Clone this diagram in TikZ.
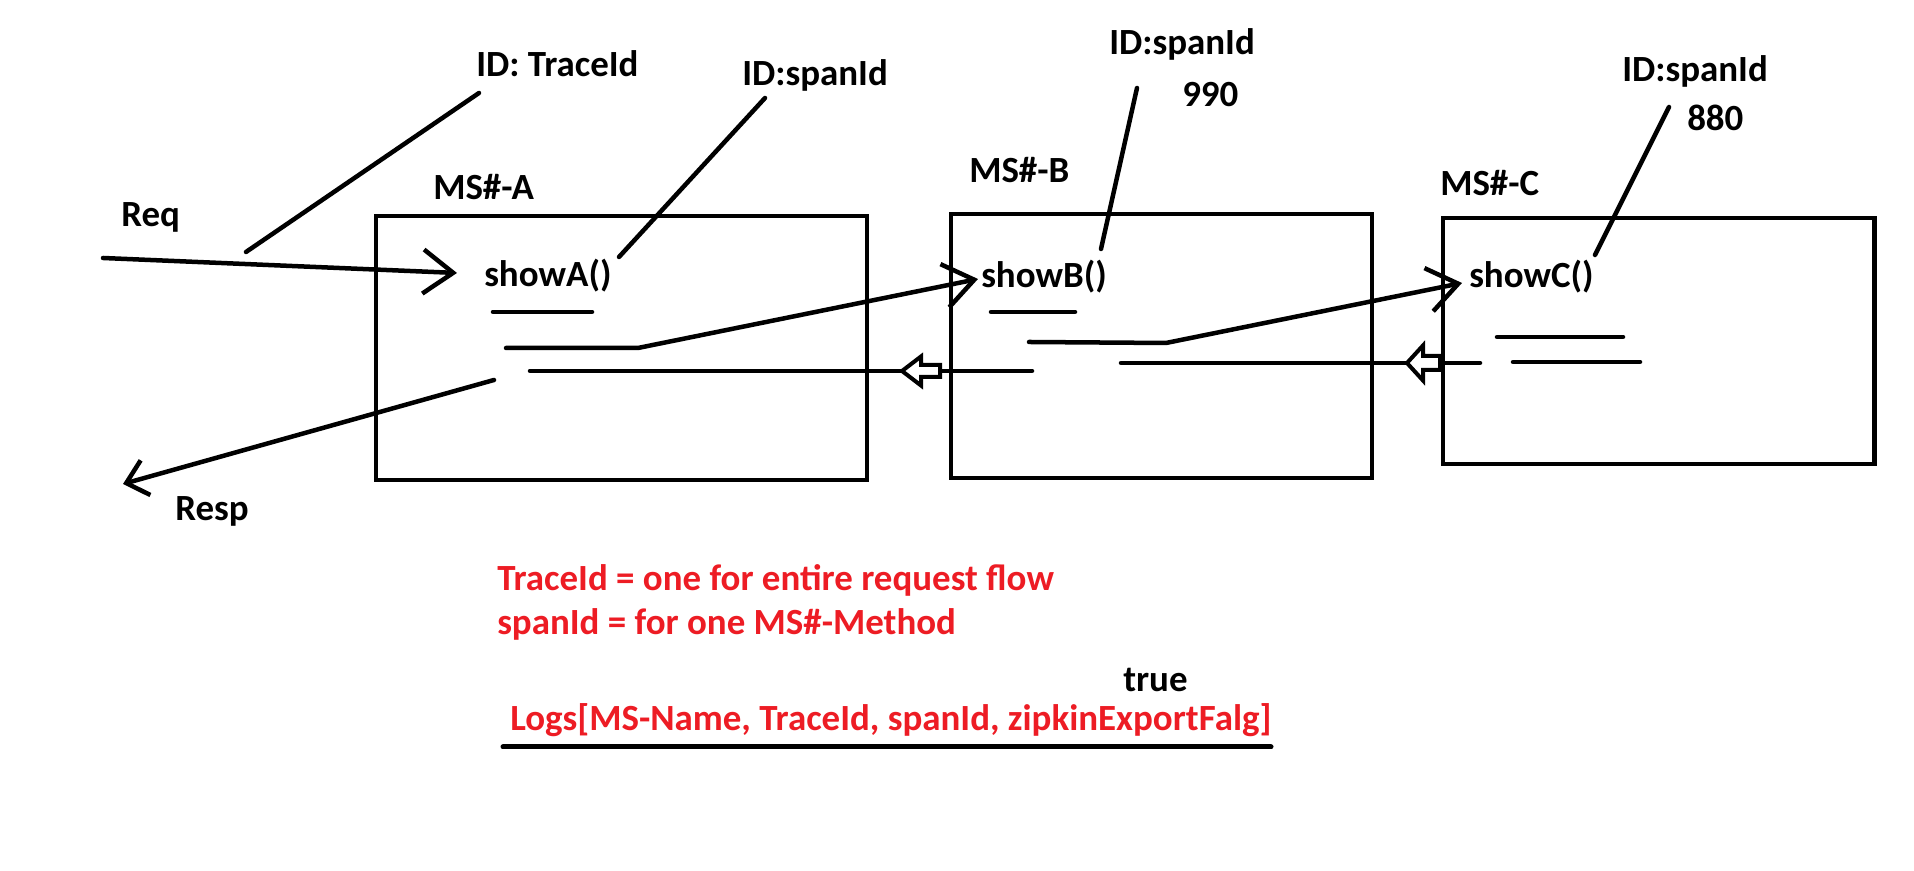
\documentclass[tikz,border=0pt]{standalone}
\usepackage{fontspec}
\setmainfont{Carlito}
\usetikzlibrary{arrows.meta}

\definecolor{paintred}{RGB}{237,28,36}

\tikzset{
  service/.style={draw, line width=0.045cm, inner sep=0pt},
  txt/.style={font=\bfseries\fontsize{10.5}{12}\selectfont, inner sep=0pt, anchor=base west},
  note/.style={txt, text=paintred},
  back arrow/.style={draw, fill=white, line width=0.04cm, line join=miter},
}

\begin{document}
\begin{tikzpicture}[x=0.01cm, y=-0.01cm, line width=0.045cm, line cap=round,
  >={Straight Barb[length=0.3cm, width=0.44cm]}]

\useasboundingbox (0,0) rectangle (1914,871);

\foreach \m/\x/\y/\w/\h in {A/621.5/348/4.91/2.64, B/1161.5/346/4.21/2.64, C/1658.7/341/4.315/2.46}
  \node [service, minimum width=\w cm, minimum height=\h cm] (ms-\m) at (\x,\y) {};

\foreach \m/\x/\y in {A/431/200, B/967/183, C/1438/196}
  \node [txt] (name-\m) at (\x,\y) {MS\#-\m};

\foreach \m/\x/\y in {A/482/287, B/979/288, C/1467/288}
  \node [txt] (show-\m) at (\x,\y) {show\m()};

\foreach \m/\x/\y in {A/740/86, B/1107/55, C/1620/82}
  \node [txt] (span-\m) at (\x,\y) {ID:spanId};

\node [txt] (trace) at (474,77) {ID: TraceId};
\node [txt] (span-val-B) at (1180,107) {990};
\node [txt] (span-val-C) at (1685,131) {880};
\node [txt] (req) at (119,227) {Req};
\node [txt] (resp) at (173,521) {Resp};

% loose ends of the lines
\foreach \n/\x/\y in {
    ptr-T1/479/93, ptr-T2/246/252,
    ptr-A1/765/98, ptr-A2/619/257,
    ptr-B1/1137/88, ptr-B2/1101/249,
    ptr-C1/1669/107, ptr-C2/1595/255,
    req-in/103/258, req-tip/457/273,
    resp-out/494/380, resp-tip/123/484,
    a1-l/493/312, a1-r/592/312,
    a2-l/506/348, a2-r/638/348, tip-B/978/279,
    b1-l/991/312, b1-r/1075/312,
    b2-l/1029/342, b2-r/1166/343, tip-C/1462/283,
    c1-l/1497/337, c1-r/1623/337,
    c2-l/1513/362, c2-r/1640/362,
    ret-A/530/371, ret-B-out/1032/371,
    ret-B-in/1121/363, ret-C-out/1480/363,
    back-A/902/371, back-B/1407/363,
    logs-l/503/747, logs-r/1271/747}
  \coordinate (\n) at (\x,\y);

\foreach \m in {T,A,B,C}
  \draw (ptr-\m1) -- (ptr-\m2);

\draw [->] (req-in) -- (req-tip);
\draw [-{Straight Barb[length=0.2cm, width=0.36cm]}] (resp-out) -- (resp-tip);

\draw (a1-l) -- (a1-r);
\draw [->] (a2-l) -- (a2-r) -- (tip-B);
\draw (b1-l) -- (b1-r);
\draw [->] (b2-l) -- (b2-r) -- (tip-C);
\draw (c1-l) -- (c1-r);
\draw (c2-l) -- (c2-r);

% way back
\draw (ret-B-out) -- (ret-A);
\draw (ret-C-out) -- (ret-B-in);
\draw [back arrow] (back-A) -- ++(19,-14.5) -- ++(0,8.5) -- ++(19,0) -- ++(0,12)
  -- ++(-19,0) -- ++(0,8.5) -- cycle;
\draw [back arrow] (back-B) -- ++(16,-17.5) -- ++(0,10.5) -- ++(17,0) -- ++(0,14)
  -- ++(-17,0) -- ++(0,10.5) -- cycle;

\node [note] (note-trace) at (495,591) {TraceId = one for entire request flow};
\node [note] (note-span) at (495,635) {spanId = for one MS\#-Method};
\node [txt] (flag) at (1121,692) {true};
\node [note] (logs) at (508,731) {Logs[MS-Name, TraceId, spanId, zipkinExportFalg]};
\draw [line width=0.05cm] (logs-l) -- (logs-r);

\end{tikzpicture}
\end{document}
